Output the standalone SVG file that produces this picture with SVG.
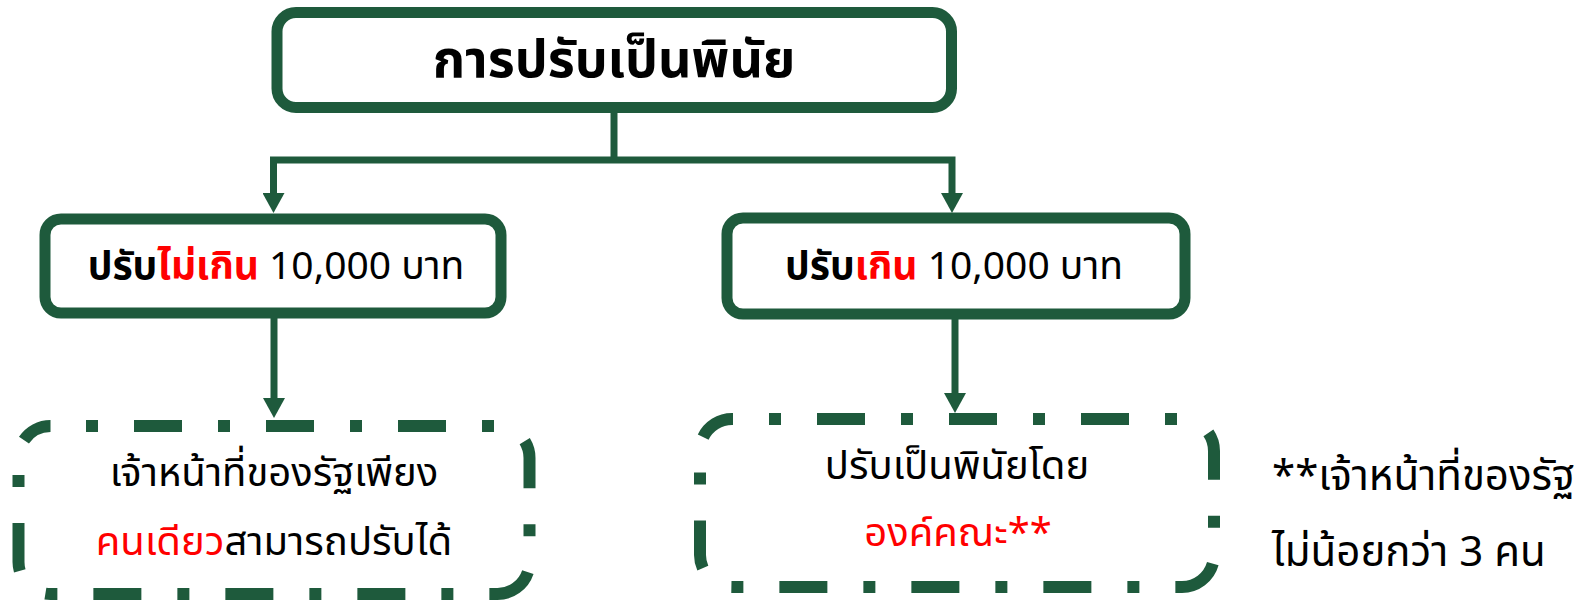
<svg xmlns="http://www.w3.org/2000/svg" width="1588" height="606" viewBox="0 0 1588 606">
<style>
.box{fill:#fff;stroke:#1E5A3C;stroke-width:11}
.dash{fill:#fff;stroke:#1E5A3C;stroke-width:12;stroke-dasharray:12 36 48 36}
.conn{fill:none;stroke:#1E5A3C;stroke-width:7}
text{font-family:"Noto Sans Thai","Noto Sans","DejaVu Sans",sans-serif;fill:#000}
.b{font-weight:bold}
.red{fill:#FF0000}
</style>
<defs>
<marker id="arr" viewBox="0 0 20 22" refX="8" refY="11" markerWidth="20" markerHeight="22" markerUnits="userSpaceOnUse" orient="auto-start-reverse">
<path d="M0,0 L20,11 L0,22 z" fill="#1E5A3C"/>
</marker>
</defs>
<rect width="1588" height="606" fill="#fff"/>
<g id="connectors">
<path class="conn" d="M614,110 V160"/>
<path class="conn" d="M273.5,201 V160 H952 V201" marker-start="url(#arr)" marker-end="url(#arr)"/>
<path class="conn" d="M274,316 V406" marker-end="url(#arr)"/>
<path class="conn" d="M955,317 V401" marker-end="url(#arr)"/>
</g>
<g id="title">
<rect class="box" x="277" y="12.5" width="674.5" height="95" rx="19"/>
<text x="614" y="77" font-size="52" text-anchor="middle" class="b">การปรับเป็นพินัย</text>
</g>
<g id="under10000">
<rect class="box" x="45" y="219" width="456" height="94" rx="16"/>
<text x="276" y="279" font-size="39" text-anchor="middle"><tspan class="b">ปรับ</tspan><tspan class="b red">ไม่เกิน</tspan> 10,000 บาท</text>
</g>
<g id="over10000">
<rect class="box" x="727" y="218" width="458" height="96" rx="16"/>
<text x="954" y="279" font-size="39" text-anchor="middle"><tspan class="b">ปรับ</tspan><tspan class="b red">เกิน</tspan> 10,000 บาท</text>
</g>
<g id="single">
<rect class="dash" x="18.5" y="426" width="511" height="168" rx="32" stroke-dashoffset="96.5"/>
<text x="274" y="486" font-size="40" text-anchor="middle">เจ้าหน้าที่ของรัฐเพียง</text>
<text x="274" y="555" font-size="40" text-anchor="middle"><tspan class="red">คนเดียว</tspan>สามารถปรับได้</text>
</g>
<g id="committee">
<rect class="dash" x="700" y="419" width="514" height="168" rx="32" stroke-dashoffset="95"/>
<text x="957" y="479" font-size="40" text-anchor="middle">ปรับเป็นพินัยโดย</text>
<text x="958" y="546" font-size="40" text-anchor="middle" class="red">องค์คณะ**</text>
</g>
<g id="note">
<text x="1272" y="490" font-size="42">**เจ้าหน้าที่ของรัฐ</text>
<text x="1272" y="566" font-size="42">ไม่น้อยกว่า 3 คน</text>
</g>
</svg>
